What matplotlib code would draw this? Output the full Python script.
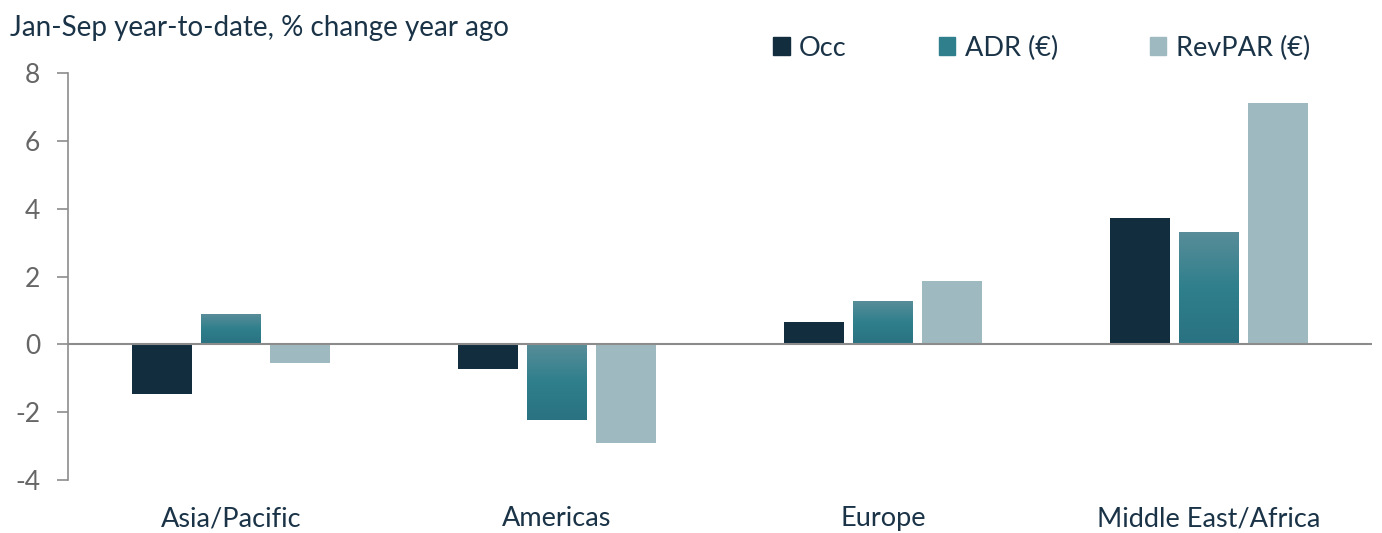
import numpy as np
import matplotlib
matplotlib.use("Agg")
import matplotlib.pyplot as plt
from matplotlib.patches import Patch
from matplotlib.colors import LinearSegmentedColormap

plt.rcParams['font.family'] = ['Lato', 'DejaVu Sans']

categories = ["Asia/Pacific", "Americas", "Europe", "Middle East/Africa"]
series_names = ["Occ", "ADR (\u20ac)", "RevPAR (\u20ac)"]
occ = [-1.45, -0.74, 0.65, 3.72]
adr = [0.88, -2.24, 1.24, 3.30]
revpar = [-0.56, -2.92, 1.86, 7.11]
yticks = [-4, -2, 0, 2, 4, 6, 8]

c_occ = "#112d3e"
c_rev = "#9eb9bf"
adr_top, adr_mid, adr_bot = "#588d99", "#2f7f8c", "#2a7281"
c_text = "#1a3347"
c_tick = "#666666"
c_axis = "#8c8c8c"

fig = plt.figure(figsize=(13.82, 5.33), dpi=100)
ax = fig.add_axes([0.0492, 0.0994, 0.9436, 0.7636])

x = np.arange(len(categories))
w = 0.184
pitch = 0.213

b1 = ax.bar(x - pitch, occ, w, color=c_occ, zorder=2)
b2 = ax.bar(x, adr, w, color=adr_mid, zorder=2)
b3 = ax.bar(x + pitch, revpar, w, color=c_rev, zorder=2)

cmap = LinearSegmentedColormap.from_list("adr", [adr_top, adr_mid, adr_bot])
grad = np.linspace(0, 1, 256).reshape(-1, 1)
for r in b2:
    x0, y0 = r.get_x(), r.get_y()
    wd, ht = r.get_width(), r.get_height()
    ylo, yhi = min(y0, y0 + ht), max(y0, y0 + ht)
    ax.imshow(grad, cmap=cmap, aspect='auto', extent=(x0, x0 + wd, ylo, yhi),
              origin='upper', zorder=2.1, interpolation='bicubic')

ax.set_xlim(-0.5, len(categories) - 0.5)
ax.set_ylim(-4, 8)
ax.axhline(0, color=c_axis, lw=1.5, zorder=3)

for s in ["top", "right", "bottom"]:
    ax.spines[s].set_visible(False)
ax.spines["left"].set_color(c_axis)
ax.spines["left"].set_linewidth(1.2)

ax.set_yticks(yticks)
ax.set_yticklabels([str(v) for v in yticks])
ax.tick_params(axis='y', colors=c_axis, length=8, width=1.2, pad=12,
               labelsize=19, labelcolor=c_tick)
ax.set_xticks(x)
ax.set_xticklabels(categories)
ax.tick_params(axis='x', length=0, pad=19, labelsize=19.5, labelcolor=c_text)

fig.text(0.007, 0.948, "Jan-Sep year-to-date, % change year ago", fontsize=20,
         color=c_text, ha='left', va='center')

handles = [Patch(color=c_occ), Patch(color=adr_mid), Patch(color=c_rev)]
fig.legend(handles, series_names, loc='center left', bbox_to_anchor=(0.542, 0.91),
           ncol=3, frameon=False, fontsize=19.5, labelcolor=c_text,
           handlelength=0.6, handleheight=0.6, handletextpad=0.35,
           columnspacing=3.4)

fig.savefig("out.png", dpi=100)
